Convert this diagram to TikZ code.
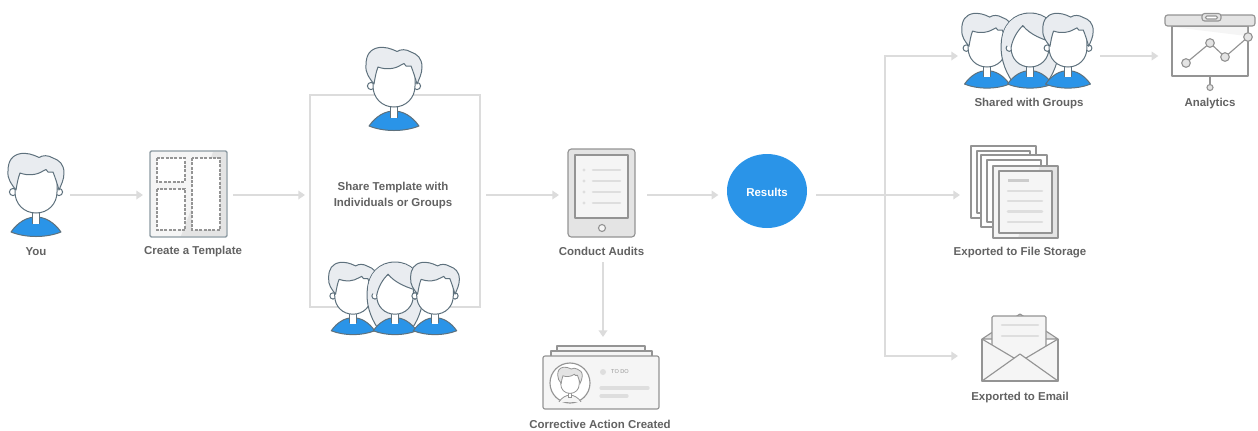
\documentclass[tikz,border=0pt]{standalone}
\usepackage{fontspec}
\setmainfont{Liberation Sans}
\usetikzlibrary{arrows.meta,shapes.geometric}
\definecolor{lbl}{HTML}{626262}
\definecolor{conncol}{HTML}{DCDCDC}
\definecolor{bluef}{HTML}{2A94E8}
\definecolor{hairf}{HTML}{E9ECF0}
\definecolor{pstroke}{HTML}{5E717D}
\definecolor{iconl}{HTML}{949494}
\definecolor{tmplline}{HTML}{8C99A1}
\definecolor{iconf}{HTML}{E4E4E4}
\definecolor{iconp}{HTML}{F5F5F5}
\definecolor{barc}{HTML}{DEDEDE}
\newcommand{\faceshape}{(-21,15) -- (-21,39) .. controls (-21,51) and (-12,60) .. (0,60) .. controls (12,60) and (21,51) .. (21,39) -- (21,15) -- cycle}
\newcommand{\hairshape}{(-20,37) .. controls (-24,32) and (-29,26) .. (-28,18) .. controls (-28,8) and (-24,2) .. (-15,0.5) .. controls (-9,0) and (-4,1) .. (3,4.5) .. controls (7,2) and (12,2) .. (17,5) .. controls (23,7) and (28,11) .. (28,20) .. controls (28,27) and (25,32) .. (23,37) .. controls (21,30) and (19,24) .. (17,19) -- (12,19) -- (10,16.5) -- (7,18) .. controls (1,22) and (-8,23) .. (-16,20) .. controls (-18,25) and (-19,31) .. (-20,37) -- cycle}
\newcommand{\bodyshape}{(-25,79) .. controls (-18,69) and (-9,64) .. (0,64) .. controls (9,64) and (18,69) .. (25,79) .. controls (10,85) and (-10,85) .. (-25,79) -- cycle}
\tikzset{
  pline/.style={draw=pstroke,line width=.75pt,line join=round},
  conn/.style={draw=conncol,line width=1.1pt,-{Triangle[length=5pt,width=6.5pt]}},
  plainconn/.style={draw=conncol,line width=1.1pt},
  lab/.style={font=\bfseries\fontsize{8.6}{11}\selectfont,text=lbl,inner sep=0pt,align=center},
  hit/.style={inner sep=0pt,outer sep=0pt,minimum height=#1},
  icon/.style={draw=iconl,line width=.85pt,line join=round},
  bar/.style={draw=barc,line width=2pt,line cap=round},
  person/.pic={
    \path[pline,fill=bluef] \bodyshape;
    \path[pline,fill=white] (-3.5,56) -- (-3.5,70) -- (3.5,70) -- (3.5,56);
    \path[fill=white] (-3,56) rectangle (3,71);
    \path[pline,fill=white] (-23,39) circle (3.6);
    \path[pline,fill=white] (23,39) circle (3.6);
    \path[pline,fill=white] \faceshape;
    \path[pline,fill=hairf] \hairshape;
  },
  woman/.pic={
    \path[pline,fill=hairf] (-20,76) .. controls (-29,62) and (-33,48) .. (-32,34) .. controls (-31,13) and (-18,0) .. (0,0) .. controls (18,0) and (31,13) .. (32,34) .. controls (33,48) and (29,62) .. (20,76) -- cycle;
    \path[pline,fill=bluef] \bodyshape;
    \path[pline,fill=white] (-3.5,56) -- (-3.5,70) -- (3.5,70) -- (3.5,56);
    \path[fill=white] (-3,56) rectangle (3,71);
    \path[pline,fill=white] (-23,39) circle (3.6);
    \path[pline,fill=white] (23,39) circle (3.6);
    \path[pline,fill=white] \faceshape;
    \path[fill=hairf] (-21,38) .. controls (-19,28) and (-14,20) .. (-8,14) .. controls (0,24) and (14,30) .. (31,34) .. controls (30,13) and (18,1) .. (0,1) .. controls (-18,1) and (-31,13) .. (-31,34) -- cycle;
    \path[pline] (-21,38) .. controls (-19,28) and (-14,20) .. (-8,14) .. controls (0,24) and (14,30) .. (31,34);
  },
}
\begin{document}
\begin{tikzpicture}[x=.75pt,y=-.75pt]
\useasboundingbox (0,0) rectangle (1258,430);
% layout anchors for the connectors
\node[hit=10pt,minimum width=51pt] (you) at (36,195) {};
\node[hit=10pt,minimum width=67.5pt] (tmpl) at (188,195) {};
\node[draw=conncol,line width=1.1pt,minimum width=127.5pt,minimum height=159pt,outer xsep=4.5pt,inner sep=0pt] (share) at (395,201) {};
\node[hit=100.5pt,minimum width=66pt] (audit) at (603,195) {};
\node[hit=58.5pt,minimum width=60pt] (corr) at (603,376) {};
\node[ellipse,fill=bluef,minimum width=60pt,minimum height=55.5pt,inner sep=0pt,outer xsep=6.5pt] (results) at (767,191) {};
\node[font=\bfseries\fontsize{8.6}{11}\selectfont,text=white,inner sep=0pt] (resultstxt) at (767,192) {Results};
\node[hit=10pt,minimum width=106.5pt] (groups) at (1029,56) {};
\node[hit=10pt,minimum width=90pt] (files) at (1020,195) {};
\node[hit=10pt,minimum width=93pt] (mail) at (1020,356) {};
\node[hit=10pt,minimum width=70pt] (ana) at (1205,56) {};
\coordinate (fork) at (885,195);
\coordinate (outstart) at (816,195);
\coordinate (tmplend) at (305,195);
% connectors
\draw[conn] (you) -- (tmpl);
\draw[conn] (tmpl) -- (tmplend);
\draw[conn] (share.east |- tmpl) -- (audit.west);
\draw[conn] (audit.east) -- (results.west |- audit);
\draw[conn] (audit.south) -- (corr.north);
\draw[plainconn] (outstart) -- (fork);
\draw[conn] (fork) -- (files.west);
\draw[conn] (fork) |- (groups.west);
\draw[conn] (fork) |- (mail.west);
\draw[conn] (groups) -- (ana);
% person
\pic at (36,153) {person};
\pic at (394,47) {person};
\pic[scale=.87] at (353,262) {person};
\pic[scale=.87] at (395,262) {woman};
\pic[scale=.87] at (435,262) {person};
\pic[scale=.9] at (987,13) {person};
\pic[scale=.9] at (1030,13) {woman};
\pic[scale=.9] at (1068,13) {person};
% template
\fill[iconp] (150,151) rectangle (227,237);
\fill[iconf] (213,152) -- (226,152) -- (226,236) -- (181,236) -- cycle;
\draw[icon,draw=tmplline,line width=1.1pt,rounded corners=1pt] (150,151) rectangle (227,237);
\foreach \a/\b/\c/\d in {157/158/185/182,157/189/185/230,192/158/220/230}{
  \fill[white] (\a,\b) rectangle (\c,\d);
  \draw[draw=iconl,line width=.9pt,dash pattern=on 2.2pt off 1.1pt] (\a,\b) rectangle (\c,\d);
}
% tablet
\draw[icon,fill=iconf,rounded corners=2.5pt] (568,149) rectangle (635,237);
\draw[icon,fill=iconp] (575,155) rectangle (628,218);
\draw[icon,fill=iconp] (602,228) circle (3.5);
\foreach \y in {170,181,192,203}{
  \fill[barc] (584,\y) circle (1.7);
  \draw[bar] (593,\y) -- (620,\y);
}
% corrective action card
\draw[icon,fill=iconp] (557,350) -- (557,346) -- (645,346) -- (645,350);
\draw[icon,fill=iconp] (551,356) -- (551,351) -- (652,351) -- (652,356);
\draw[icon,fill=iconp,rounded corners=1.5pt] (543,356) rectangle (659,409);
\draw[icon,fill=white] (570,383) circle (20);
\begin{scope}[shift={(570,367)},scale=.44]
  \path[draw=iconl,line width=.6pt,fill=iconp] (-25,79) .. controls (-18,69) and (-9,64) .. (0,64) .. controls (9,64) and (18,69) .. (25,79);
  \path[draw=iconl,line width=.6pt,fill=white] (-3.5,56) -- (-3.5,68) -- (3.5,68) -- (3.5,56);
  \path[draw=iconl,line width=.6pt,fill=white] \faceshape;
  \path[draw=iconl,line width=.6pt,fill=iconf] \hairshape;
\end{scope}
\fill[barc] (603,372) circle (3);
\node[font=\fontsize{4.2}{5}\selectfont,text=iconl,inner sep=0pt] (todo) at (620,372) {TO DO};
\draw[bar,line width=2.4pt] (601,388) -- (648,388);
\draw[bar,line width=2.4pt] (601,396) -- (627,396);
% analytics
\draw[icon,fill=white] (1172,26) rectangle (1248,76);
\fill[iconp] (1173,27) -- (1247,27) -- (1247,36) -- cycle;
\draw[icon,fill=iconf,rounded corners=2pt] (1165,15) rectangle (1255,26);
\draw[icon,fill=iconf,rounded corners=2pt] (1202,13.5) rectangle (1221,21);
\draw[icon,fill=white,rounded corners=1pt] (1205.5,16) rectangle (1217.5,19);
\draw[icon] (1210,76) -- (1210,84);
\draw[icon,fill=iconf] (1210,87.5) circle (3);
\draw[icon] (1186,63) -- (1210,43) -- (1225,57) -- (1248,37);
\foreach \p/\q in {1186/63,1210/43,1225/57,1248/37}{
  \draw[icon,fill=iconf] (\p,\q) circle (4.3);
}
% file storage
\foreach \a/\b/\c/\d in {971/146/1036/218,981/155/1047/227}{
  \fill[white] (\a,\b) rectangle (\c,\d);
  \draw[icon] (\a,\b) rectangle (\c,\d);
  \draw[icon] (\a+6,\b+5) rectangle (\c-6,\d-5);
}
\fill[iconp] (993,166) rectangle (1058,238);
\fill[iconf] (1040,166) -- (1058,166) -- (1058,238) -- (1018,238) -- cycle;
\draw[icon] (993,166) rectangle (1058,238);
\draw[icon,fill=iconp] (999,171) rectangle (1052,233);
\draw[draw=iconf!70!iconl,line width=2pt] (1008,180.5) -- (1029,180.5);
\foreach \y in {191,201,211.5,222}{
  \draw[bar] (1008,\y) -- (1042,\y);
}
% email
\draw[icon,fill=iconf] (982,339) -- (1020,314) -- (1058,339) -- cycle;
\draw[icon,fill=iconp,rounded corners=1pt] (992,316) rectangle (1046,365);
\draw[bar] (1002,325) -- (1038,325);
\draw[bar] (1002,336) -- (1038,336);
\draw[icon,fill=iconp] (982,339) -- (1014,358) -- (1026,358) -- (1058,339) -- (1058,381) -- (982,381) -- cycle;
\draw[icon,fill=iconp] (982,381) -- (1020,354) -- (1058,381);
\draw[icon] (982,339) -- (982,381) -- (1058,381) -- (1058,339);
% labels
\node[lab] (l1) at (36,251.5) {You};
\node[lab] (l2) at (193,252) {Create a Template};
\node[lab] (l3) at (393,196) {Share Template with\\[1pt]Individuals or Groups};
\node[lab] (l4) at (601.5,251) {Conduct Audits};
\node[lab] (l5) at (600,424.5) {Corrective Action Created};
\node[lab] (l6) at (1029,104) {Shared with Groups};
\node[lab] (l7) at (1210,104) {Analytics};
\node[lab] (l8) at (1020,253) {Exported to File Storage};
\node[lab] (l9) at (1020,398) {Exported to Email};
\end{tikzpicture}
\end{document}
